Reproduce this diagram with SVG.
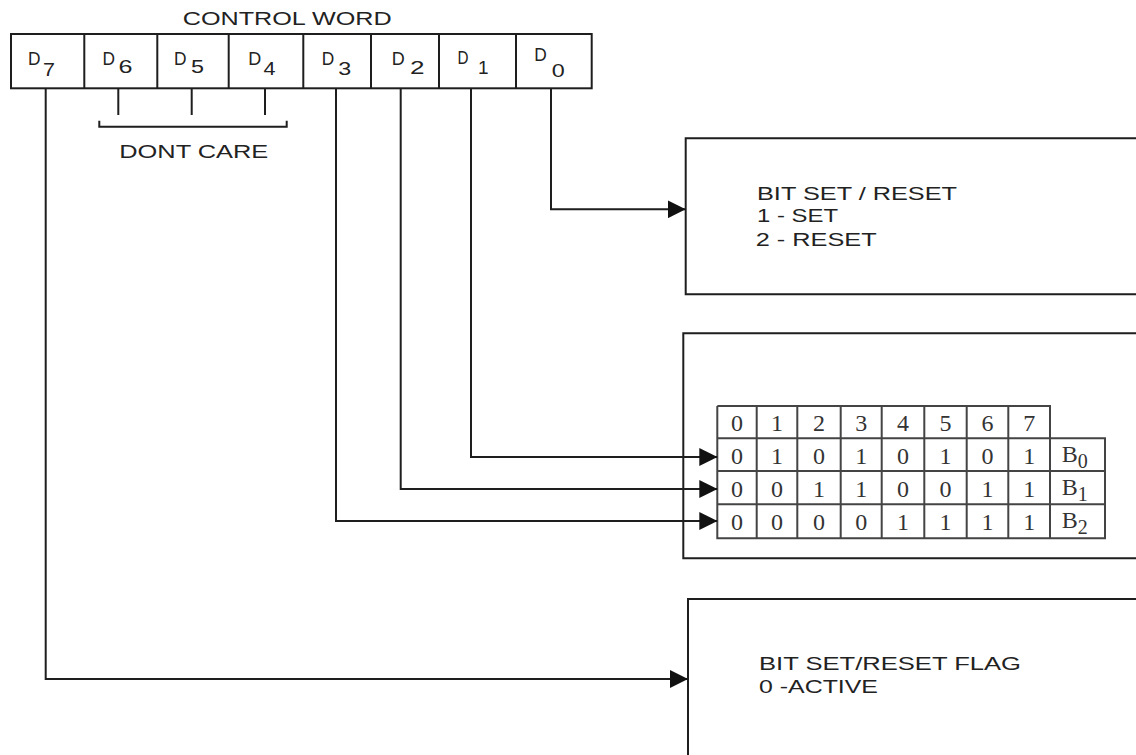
<svg xmlns="http://www.w3.org/2000/svg" width="1136" height="755" viewBox="0 0 1136 755">
  <style>
    .ln { fill: none; stroke: #1e1e1e; stroke-width: 2; }
    .tb { fill: none; stroke: #444; stroke-width: 2; }
    .sans { font-family: "Liberation Sans", Arial, sans-serif; fill: #222; }
    .dl { font-size: 17.5px; }
    .ds { font-size: 19px; }
    .ser { font-family: "Liberation Serif", "Times New Roman", serif; fill: #333; font-size: 24px; text-anchor: middle; }
    .bser { font-family: "Liberation Serif", "Times New Roman", serif; fill: #333; font-size: 24px; }
  </style>
  <defs>
    <marker id="arr" markerUnits="userSpaceOnUse" markerWidth="18" markerHeight="18" refX="18" refY="9" orient="auto">
      <path d="M0,0 L18,9 L0,18 Z" fill="#111"/>
    </marker>
  </defs>
  <rect width="1136" height="755" fill="#fff"/>

  <g id="control-word">
    <text class="sans" x="182.7" y="25" font-size="18" textLength="209" lengthAdjust="spacingAndGlyphs">CONTROL WORD</text>
    <rect class="ln" x="11" y="34" width="580.7" height="54.3"/>
    <path class="ln" d="M84.3,34 V88.3 M157.3,34 V88.3 M228.7,34 V88.3 M303.3,34 V88.3 M371,34 V88.3 M439,34 V88.3 M516,34 V88.3"/>
    <text class="sans"><tspan class="dl" x="28" y="64.5" textLength="12.5" lengthAdjust="spacingAndGlyphs">D</tspan><tspan class="ds" x="43" y="76" textLength="12" lengthAdjust="spacingAndGlyphs">7</tspan></text>
    <text class="sans"><tspan class="dl" x="102.5" y="65" textLength="12.5" lengthAdjust="spacingAndGlyphs">D</tspan><tspan class="ds" x="118.5" y="72.7" textLength="14" lengthAdjust="spacingAndGlyphs">6</tspan></text>
    <text class="sans"><tspan class="dl" x="174" y="65" textLength="12.5" lengthAdjust="spacingAndGlyphs">D</tspan><tspan class="ds" x="191" y="72.7" textLength="13" lengthAdjust="spacingAndGlyphs">5</tspan></text>
    <text class="sans"><tspan class="dl" x="248.3" y="65" textLength="13" lengthAdjust="spacingAndGlyphs">D</tspan><tspan class="ds" x="263.5" y="75" textLength="12" lengthAdjust="spacingAndGlyphs">4</tspan></text>
    <text class="sans"><tspan class="dl" x="321.7" y="65" textLength="12.5" lengthAdjust="spacingAndGlyphs">D</tspan><tspan class="ds" x="338.3" y="75" textLength="13" lengthAdjust="spacingAndGlyphs">3</tspan></text>
    <text class="sans"><tspan class="dl" x="391.7" y="65" textLength="13" lengthAdjust="spacingAndGlyphs">D</tspan><tspan class="ds" x="410" y="74" textLength="14.5" lengthAdjust="spacingAndGlyphs">2</tspan></text>
    <text class="sans"><tspan class="dl" x="457.5" y="64" textLength="11" lengthAdjust="spacingAndGlyphs">D</tspan><tspan class="ds" x="478" y="74">1</tspan></text>
    <text class="sans"><tspan class="dl" x="534.3" y="61" textLength="12.5" lengthAdjust="spacingAndGlyphs">D</tspan><tspan class="ds" x="551.7" y="77.3" textLength="13" lengthAdjust="spacingAndGlyphs">0</tspan></text>
  </g>

  <g id="dont-care">
    <path class="ln" d="M118.3,88 V115 M191.7,88 V115 M265,88 V115 M99.3,120.7 V126.7 H286.7 V120.7"/>
    <text class="sans" x="119.3" y="158.3" font-size="19" textLength="149" lengthAdjust="spacingAndGlyphs">DONT CARE</text>
  </g>

  <g id="box-bit-set-reset">
    <path class="ln" d="M1137,138.3 H685.7 V294.3 H1137"/>
    <text class="sans" font-size="19" x="757" y="200" textLength="200" lengthAdjust="spacingAndGlyphs">BIT SET / RESET</text>
    <text class="sans" font-size="19" x="757" y="222" textLength="81" lengthAdjust="spacingAndGlyphs">1 - SET</text>
    <text class="sans" font-size="19" x="755.7" y="246" textLength="121" lengthAdjust="spacingAndGlyphs">2 - RESET</text>
  </g>

  <g id="box-bit-select">
    <path class="ln" d="M1137,333.3 H683.3 V558.3 H1137"/>
    <g id="table">
      <path class="tb" d="M717.3,406 H1050 V438.3 M717.3,406 V538.3 H1105 V438.3 H717.3 M717.3,471 H1105 M717.3,504.3 H1105
        M756.7,406 V538.3 M797.3,406 V538.3 M840.7,406 V538.3 M881.7,406 V538.3 M924.3,406 V538.3 M966.7,406 V538.3 M1008.3,406 V538.3 M1050,438.3 V538.3"/>
      <g class="ser">
        <text x="737" y="430.5">0</text><text x="777" y="430.5">1</text><text x="819" y="430.5">2</text><text x="861.2" y="430.5">3</text>
        <text x="903" y="430.5">4</text><text x="945.5" y="430.5">5</text><text x="987.5" y="430.5">6</text><text x="1029.2" y="430.5">7</text>

        <text x="737" y="463.5">0</text><text x="777" y="463.5">1</text><text x="819" y="463.5">0</text><text x="861.2" y="463.5">1</text>
        <text x="903" y="463.5">0</text><text x="945.5" y="463.5">1</text><text x="987.5" y="463.5">0</text><text x="1029.2" y="463.5">1</text>

        <text x="737" y="496.5">0</text><text x="777" y="496.5">0</text><text x="819" y="496.5">1</text><text x="861.2" y="496.5">1</text>
        <text x="903" y="496.5">0</text><text x="945.5" y="496.5">0</text><text x="987.5" y="496.5">1</text><text x="1029.2" y="496.5">1</text>

        <text x="737" y="530">0</text><text x="777" y="530">0</text><text x="819" y="530">0</text><text x="861.2" y="530">0</text>
        <text x="903" y="530">1</text><text x="945.5" y="530">1</text><text x="987.5" y="530">1</text><text x="1029.2" y="530">1</text>
      </g>
      <text class="bser" x="1061.7" y="461.7">B<tspan font-size="20" dy="6.5">0</tspan></text>
      <text class="bser" x="1061.7" y="494.5">B<tspan font-size="20" dy="6.5">1</tspan></text>
      <text class="bser" x="1061.7" y="527.5">B<tspan font-size="20" dy="6.5">2</tspan></text>
    </g>
  </g>

  <g id="box-flag">
    <path class="ln" d="M1137,599 H688 V756"/>
    <text class="sans" font-size="18.5" x="759" y="670" textLength="262" lengthAdjust="spacingAndGlyphs">BIT SET/RESET FLAG</text>
    <text class="sans" font-size="18.5" x="759" y="692.7" textLength="119" lengthAdjust="spacingAndGlyphs">0 -ACTIVE</text>
  </g>

  <g id="connectors">
    <path class="ln" d="M551,88.3 V209.3 H685.7" marker-end="url(#arr)"/>
    <path class="ln" d="M471,88.3 V457 H717.3" marker-end="url(#arr)"/>
    <path class="ln" d="M400.7,88.3 V489 H717.3" marker-end="url(#arr)"/>
    <path class="ln" d="M336,88.3 V521 H717.3" marker-end="url(#arr)"/>
    <path class="ln" d="M45.7,88.3 V679 H688" marker-end="url(#arr)"/>
  </g>
</svg>
